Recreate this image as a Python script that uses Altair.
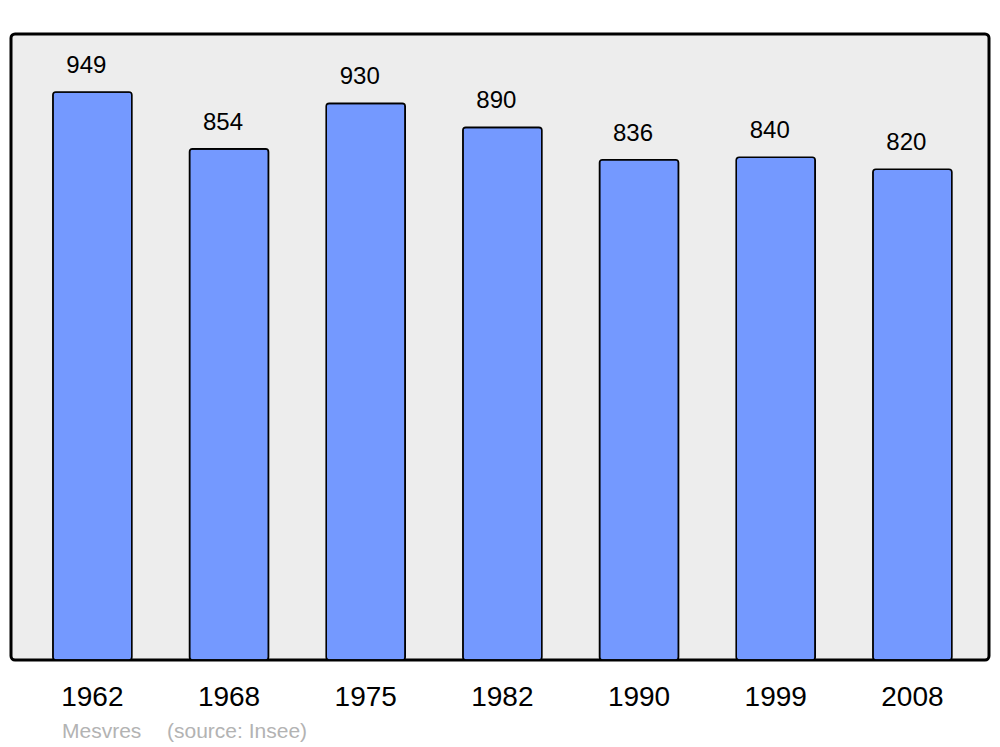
import altair as alt
import pandas as pd

years = ["1962", "1968", "1975", "1982", "1990", "1999", "2008"]
population = [949, 854, 930, 890, 836, 840, 820]
footer_place = "Mesvres"
footer_source = "(source: Insee)"

df = pd.DataFrame({"year": years, "pop": population})

xenc = alt.X(
    "year:N",
    sort=years,
    title=None,
    scale=alt.Scale(paddingInner=0.422, paddingOuter=0.289, align=0.53),
    axis=alt.Axis(
        domain=False, ticks=False, tickSize=0, labelAngle=0,
        labelFontSize=28, labelFont="Liberation Sans", labelColor="#000000",
        labelPadding=45, labelBaseline="alphabetic",
    ),
)
yenc = alt.Y("pop:Q", title=None, scale=alt.Scale(domain=[0, 1046], nice=False, zero=True), axis=None)

base = alt.Chart(df)

bars = base.mark_bar(
    color="#7499ff", stroke="#000000", strokeWidth=1.6, cornerRadius=3
).encode(x=xenc, y=yenc)

labels = base.mark_text(
    fontSize=24, font="Liberation Sans", color="#000000", dy=-19, dx=-6,
    baseline="alphabetic", align="center",
).encode(x=alt.X("year:N", sort=years), y="pop:Q", text="pop:Q")

foot1 = alt.Chart(pd.DataFrame({"t": [footer_place]})).mark_text(
    fontSize=21, font="Liberation Sans", color="#b3b3b3", align="left", baseline="alphabetic"
).encode(x=alt.value(51), y=alt.value(704), text="t:N")

foot2 = alt.Chart(pd.DataFrame({"t": [footer_source]})).mark_text(
    fontSize=21, font="Liberation Sans", color="#b3b3b3", align="left", baseline="alphabetic"
).encode(x=alt.value(156), y=alt.value(704), text="t:N")

chart = alt.layer(bars, labels, foot1, foot2).properties(
    width=978, height=626,
    autosize=alt.AutoSizeParams(type="none"),
    padding={"left": 3, "top": 26, "right": 3, "bottom": 90},
).configure_view(
    fill="#ededed", stroke="#000000", strokeWidth=3, cornerRadius=4
).configure_axis(grid=False)

chart.save("out.html", embed_options={"renderer": "svg", "actions": False})
